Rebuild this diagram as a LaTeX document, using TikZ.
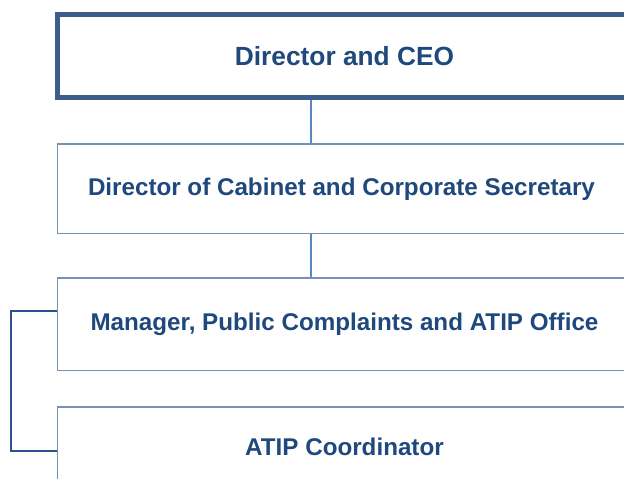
\documentclass[tikz,border=0pt]{standalone}
\usepackage{fontspec}
\setmainfont{Liberation Sans}
\usepackage{xcolor}
\usetikzlibrary{positioning}

\definecolor{boxtext}{HTML}{1F497D}
\definecolor{headline}{HTML}{3B5E8C}
\definecolor{boxline}{HTML}{7890B4}
\definecolor{linkline}{HTML}{5B87C0}
\definecolor{sideline}{HTML}{2F5090}

\tikzset{
  post/.style={draw=boxline, line width=1.5pt, rectangle, minimum width=574pt,
    text=boxtext, font=\fontsize{24.2}{28}\selectfont\bfseries, inner sep=0pt},
  headpost/.style={post, draw=headline, line width=5pt},
  link/.style={draw=linkline, line width=1.5pt},
  side/.style={draw=sideline, line width=2pt}
}

\begin{document}
\begin{tikzpicture}[x=1pt, y=-1pt]
\useasboundingbox (0,0) rectangle (624,479);
\clip (0,0) rectangle (624,479);
\fill[white] (0,0) rectangle (624,479);

\node[headpost, minimum height=83.5pt, font=\fontsize{26.3}{30}\selectfont\bfseries] (ceo) at (344.5,55.75) {Director and CEO};
\node[post, minimum height=89.7pt] (cabinet) at (344.5,188.85) {\hspace*{-6pt}Director of Cabinet and Corporate Secretary};
\node[post, minimum height=92.7pt] (manager) at (344.5,324.35) {Manager, Public Complaints and ATIP Office};
\node[post, minimum height=80pt] (atip) at (344.5,447) {ATIP Coordinator};

\coordinate (spine) at (311,0);
\coordinate (up) at (11,311);
\coordinate (low) at (11,451.3);

\draw[link] (ceo.south -| spine) -- (cabinet.north -| spine);
\draw[link] (cabinet.south -| spine) -- (manager.north -| spine);

% side bracket tying the coordinator to the manager
\draw[side] (manager.west |- up) -- (up) -- (low) -- (atip.west |- low);
\end{tikzpicture}
\end{document}
